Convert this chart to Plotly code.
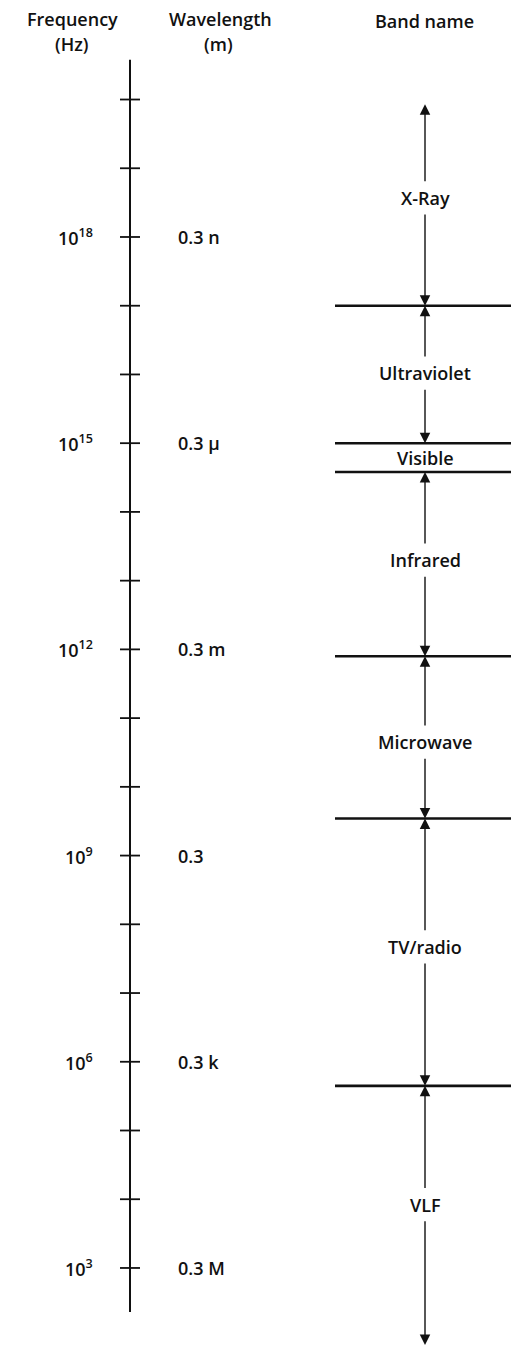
import plotly.graph_objects as go

# ---- data (exponents of frequency in Hz) ----
tick_exponents = [3, 4, 5, 6, 7, 8, 9, 10, 11, 12, 13, 14, 15, 16, 17, 18, 19, 20]
label_exponents = [18, 15, 12, 9, 6, 3]
wavelength_labels = ["0.3 n", "0.3 \u03bc", "0.3 m", "0.3", "0.3 k", "0.3 M"]
band_names = ["X-Ray", "Ultraviolet", "Visible", "Infrared", "Microwave", "TV/radio", "VLF"]
band_edges = [19.93, 17.0, 15.0, 14.58, 11.9, 9.54, 5.65, 1.88]
band_label_pos = [18.57, 16.02, 14.79, 13.30, 10.65, 7.67, 3.92]
axis_span = [20.58, 2.36]

# ---- layout constants ----
W, H = 520, 1349
Y_HI, Y_LO = 21.448, 1.821
AX_X = 130
TICK_HALF = 10
BAND_X = 425
BOUND_X = [335, 511]
GAP = 0.22
INK = "#111111"
FONT = "Open Sans, Noto Sans, sans-serif"
FS = 18
FW = 600

fig = go.Figure()

# main frequency axis line
fig.add_trace(go.Scatter(x=[AX_X, AX_X], y=axis_span, mode="lines",
                         line=dict(color=INK, width=2), hoverinfo="skip"))

# tick marks
tx, ty = [], []
for e in tick_exponents:
    tx += [AX_X - TICK_HALF, AX_X + TICK_HALF, None]
    ty += [e, e, None]
fig.add_trace(go.Scatter(x=tx, y=ty, mode="lines",
                         line=dict(color=INK, width=1.8), hoverinfo="skip"))

# band boundaries
bx, by = [], []
for e in band_edges[1:-1]:
    bx += [BOUND_X[0], BOUND_X[1], None]
    by += [e, e, None]
fig.add_trace(go.Scatter(x=bx, y=by, mode="lines",
                         line=dict(color=INK, width=2.6), hoverinfo="skip"))

annotations = []
font = dict(family=FONT, size=FS, color=INK, weight=FW)

# headers
def header(x, y_px, text):
    annotations.append(dict(x=x, y=Y_HI - y_px / H * (Y_HI - Y_LO), xref="x", yref="y",
                            text=text, showarrow=False, xanchor="center", yanchor="middle",
                            font=font))

header(72, 19, "Frequency")
header(72, 44, "(Hz)")
header(220, 19, "Wavelength")
header(218, 44, "(m)")
header(424, 21, "Band name")

# frequency & wavelength labels
for e, wl in zip(label_exponents, wavelength_labels):
    annotations.append(dict(x=95, y=e, xref="x", yref="y", text="10<sup>%d</sup>" % e,
                            showarrow=False, xanchor="right", yanchor="middle", font=font))
    annotations.append(dict(x=176, y=e, xref="x", yref="y", text=wl,
                            showarrow=False, xanchor="left", yanchor="middle", font=font))

# band labels and arrows
for i, (name, pos) in enumerate(zip(band_names, band_label_pos)):
    annotations.append(dict(x=BAND_X, y=pos, xref="x", yref="y", text=name,
                            showarrow=False, xanchor="center", yanchor="middle", font=font))
    top, bot = band_edges[i], band_edges[i + 1]
    if top - bot < 2 * GAP + 0.2:
        continue
    for tail, head in ((pos + GAP, top), (pos - GAP, bot)):
        annotations.append(dict(x=BAND_X, y=head, ax=BAND_X, ay=tail,
                                xref="x", yref="y", axref="x", ayref="y",
                                text="", showarrow=True, arrowhead=2, arrowsize=1.5,
                                arrowwidth=1.4, arrowcolor=INK, standoff=0, startstandoff=0))

fig.update_layout(
    width=W, height=H, margin=dict(l=0, r=0, t=0, b=0),
    paper_bgcolor="white", plot_bgcolor="white", showlegend=False,
    xaxis=dict(range=[0, W], visible=False, fixedrange=True),
    yaxis=dict(range=[Y_LO, Y_HI], visible=False, fixedrange=True),
    annotations=annotations,
)

fig.write_html("out.html", config={"displayModeBar": False},
               post_script="document.body.style.margin='0';document.body.style.overflow='hidden';")
